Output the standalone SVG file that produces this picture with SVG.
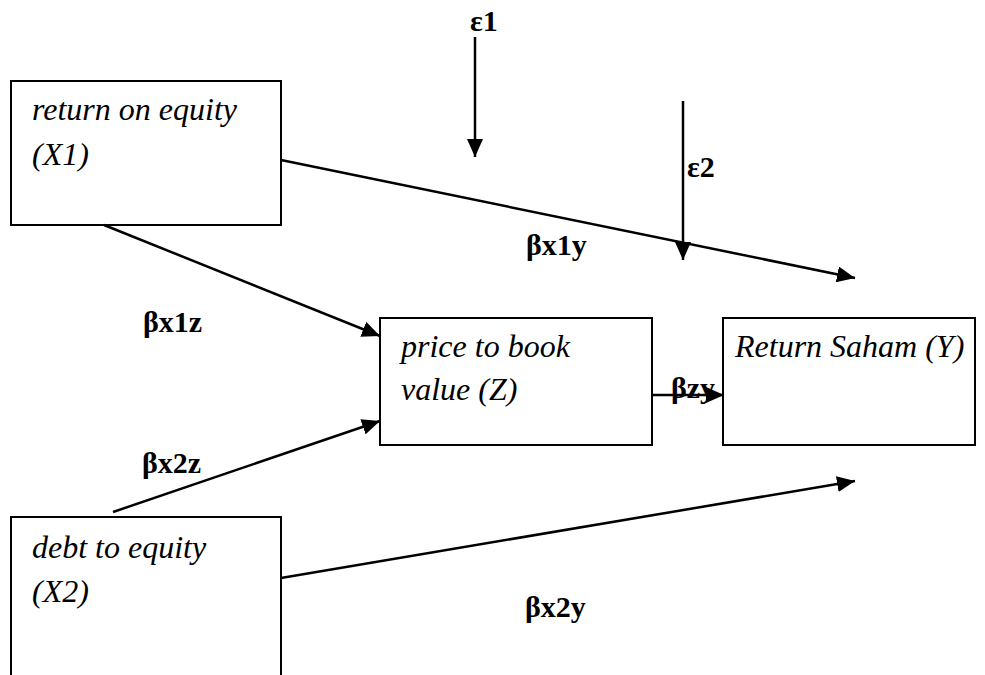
<svg xmlns="http://www.w3.org/2000/svg" width="985" height="675" viewBox="0 0 985 675">
<defs>
<marker id="ah" markerWidth="18" markerHeight="16" refX="18" refY="8" orient="auto" markerUnits="userSpaceOnUse">
<path d="M0,0 L18,8 L0,16 Z" fill="#000"/>
</marker>
<style>
.box{fill:#fff;stroke:#000;stroke-width:2}
.nt{font-family:"Liberation Serif","Times New Roman",serif;font-style:italic;font-size:32px;fill:#000}
.lb{font-family:"Liberation Serif","Times New Roman",serif;font-weight:bold;font-size:30px;fill:#000}
.cn{stroke:#000;stroke-width:2.5;fill:none;marker-end:url(#ah)}
</style>
</defs>
<rect width="985" height="675" fill="#fff"/>
<g id="x1">
<rect class="box" x="11" y="81" width="270" height="144"/>
<text class="nt" x="32" y="120">return on equity</text>
<text class="nt" x="32" y="165">(X1)</text>
</g>
<g id="z">
<rect class="box" x="380" y="318" width="272" height="127"/>
<text class="nt" x="401" y="357">price to book</text>
<text class="nt" x="401" y="400">value (Z)</text>
</g>
<g id="y">
<rect class="box" x="723" y="318" width="252" height="127"/>
<text class="nt" x="735" y="357">Return Saham (Y)</text>
</g>
<g id="x2">
<rect class="box" x="11" y="517" width="270" height="200"/>
<text class="nt" x="32" y="558">debt to equity</text>
<text class="nt" x="32" y="602">(X2)</text>
</g>
<g id="connectors">
<line class="cn" x1="475" y1="37" x2="475" y2="157"/>
<line class="cn" x1="683" y1="101" x2="683" y2="260"/>
<line class="cn" x1="281" y1="160" x2="855" y2="278"/>
<line class="cn" x1="104" y1="225" x2="380" y2="336"/>
<line class="cn" x1="113" y1="512" x2="380" y2="421"/>
<line class="cn" x1="652" y1="395" x2="724" y2="395"/>
<line class="cn" x1="281" y1="578" x2="855" y2="481"/>
</g>
<g id="labels">
<text class="lb" x="470" y="31">ε1</text>
<text class="lb" x="687" y="177">ε2</text>
<text class="lb" x="526" y="255">βx1y</text>
<text class="lb" x="143" y="332">βx1z</text>
<text class="lb" x="142" y="473">βx2z</text>
<text class="lb" x="671" y="398">βzy</text>
<text class="lb" x="525" y="617">βx2y</text>
</g>
</svg>
